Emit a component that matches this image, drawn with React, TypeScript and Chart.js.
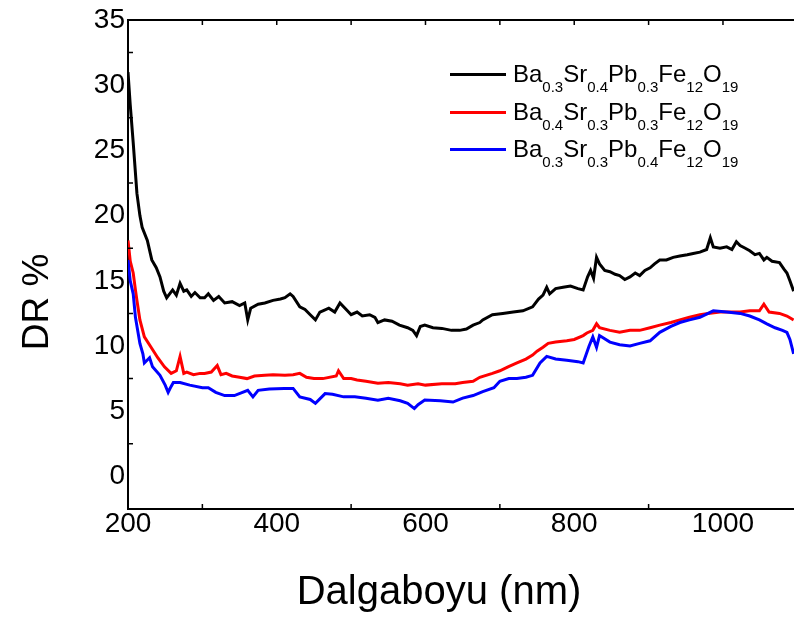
import { useEffect, useRef } from "react";
import { Chart, registerables } from "chart.js";

Chart.register(...registerables);

const FONT = '"Liberation Sans", Arial, sans-serif';

const seriesLabels = [
  "Ba0.3Sr0.4Pb0.3Fe12O19",
  "Ba0.4Sr0.3Pb0.3Fe12O19",
  "Ba0.3Sr0.3Pb0.4Fe12O19",
];
const seriesColors = ["#000000", "#ff0000", "#0000ff"];

const xTitle = "Dalgaboyu (nm)";
const yTitle = "DR %";
const xTickValues = [200, 300, 400, 500, 600, 700, 800, 900, 1000];
const xLabelValues = [200, 400, 600, 800, 1000];
const yTickValues = [0, 2.5, 5, 7.5, 10, 12.5, 15, 17.5, 20, 22.5, 25, 27.5, 30, 32.5, 35];
const yLabelValues = [0, 5, 10, 15, 20, 25, 30, 35];

const blackWl = [200, 203, 207, 212, 216, 219, 226, 232, 238, 243, 248, 252, 256, 260, 265, 270, 275, 279, 285, 290, 297, 303, 308, 315, 322, 330, 340, 350, 357, 361, 365, 375, 384, 395, 405, 411, 418, 422, 431, 438, 445, 452, 458, 462, 470, 478, 485, 495, 500, 508, 515, 525, 532, 536, 545, 555, 565, 576, 583, 588, 593, 599, 610, 622, 635, 646, 655, 664, 673, 677, 690, 704, 718, 731, 744, 752, 758, 763, 767, 775, 785, 795, 805, 812, 818, 822, 826, 830, 834, 841, 848, 855, 861, 868, 875, 882, 888, 895, 902, 908, 915, 924, 933, 942, 952, 960, 969, 978, 983, 987, 996, 1005, 1012, 1018, 1023, 1030, 1036, 1043, 1049, 1055, 1059, 1066, 1076, 1082, 1086, 1090, 1095];
const blackDR = [31.0, 28.5, 25.6, 21.7, 20.0, 19.1, 18.1, 16.6, 16.0, 15.3, 14.2, 13.7, 14.0, 14.3, 13.9, 14.8, 14.2, 14.3, 13.8, 14.1, 13.7, 13.7, 14.0, 13.5, 13.8, 13.3, 13.4, 13.1, 13.3, 12.0, 12.9, 13.2, 13.3, 13.5, 13.6, 13.7, 14.0, 13.8, 13.0, 12.8, 12.4, 12.0, 12.6, 12.7, 12.9, 12.6, 13.3, 12.7, 12.4, 12.6, 12.3, 12.4, 12.2, 11.8, 12.0, 11.9, 11.6, 11.4, 11.2, 10.8, 11.5, 11.6, 11.4, 11.35, 11.2, 11.2, 11.3, 11.6, 11.8, 12.0, 12.4, 12.5, 12.6, 12.7, 13.0, 13.6, 13.9, 14.5, 14.0, 14.4, 14.5, 14.6, 14.4, 14.3, 15.3, 15.8, 15.2, 16.8, 16.3, 15.8, 15.7, 15.5, 15.4, 15.1, 15.3, 15.6, 15.4, 15.8, 16.0, 16.3, 16.6, 16.6, 16.8, 16.9, 17.0, 17.1, 17.2, 17.4, 18.3, 17.6, 17.5, 17.6, 17.4, 18.0, 17.7, 17.5, 17.3, 17.0, 17.1, 16.6, 16.8, 16.5, 16.4, 15.9, 15.6, 15.0, 14.2];

const redWl = [200, 203, 207, 210, 212, 216, 222, 231, 240, 249, 258, 265, 270, 275, 279, 288, 297, 303, 312, 320, 325, 332, 340, 350, 360, 370, 384, 395, 411, 422, 431, 440, 450, 462, 480, 483, 490, 500, 508, 520, 536, 550, 566, 576, 590, 600, 622, 640, 650, 664, 673, 690, 700, 711, 723, 735, 744, 750, 758, 765, 775, 790, 800, 812, 817, 825, 830, 834, 848, 861, 875, 888, 902, 915, 930, 942, 955, 969, 980, 996, 1010, 1023, 1036, 1049, 1055, 1062, 1076, 1086, 1095];
const redDR = [18.1, 16.5, 15.6, 14.3, 13.5, 12.0, 10.7, 9.9, 9.1, 8.4, 7.9, 8.1, 9.2, 7.9, 8.0, 7.8, 7.9, 7.9, 8.0, 8.5, 7.8, 7.9, 7.7, 7.6, 7.5, 7.7, 7.75, 7.8, 7.75, 7.8, 7.9, 7.6, 7.5, 7.5, 7.7, 8.1, 7.5, 7.5, 7.4, 7.3, 7.15, 7.2, 7.1, 7.0, 7.1, 7.0, 7.1, 7.1, 7.2, 7.3, 7.6, 7.9, 8.1, 8.4, 8.7, 9.0, 9.3, 9.6, 9.9, 10.2, 10.3, 10.4, 10.5, 10.8, 11.0, 11.2, 11.7, 11.4, 11.2, 11.05, 11.2, 11.2, 11.4, 11.6, 11.8, 12.0, 12.2, 12.4, 12.5, 12.6, 12.6, 12.6, 12.7, 12.7, 13.2, 12.6, 12.5, 12.3, 12.0];

const blueWl = [200, 203, 207, 210, 216, 220, 222, 229, 233, 243, 250, 254, 258, 261, 270, 283, 300, 308, 318, 330, 343, 361, 368, 375, 390, 410, 422, 431, 445, 452, 465, 475, 490, 505, 520, 536, 550, 566, 576, 585, 590, 599, 620, 637, 650, 664, 677, 692, 700, 712, 723, 735, 744, 754, 763, 775, 790, 805, 812, 820, 825, 830, 834, 848, 861, 875, 888, 902, 915, 930, 942, 955, 969, 987, 1005, 1023, 1036, 1049, 1059, 1070, 1080, 1086, 1090, 1095];
const blueDR = [16.6, 15.0, 14.0, 12.2, 10.2, 9.4, 8.7, 9.1, 8.4, 7.75, 7.0, 6.45, 6.9, 7.2, 7.2, 7.0, 6.8, 6.8, 6.45, 6.2, 6.2, 6.6, 6.1, 6.6, 6.7, 6.75, 6.75, 6.1, 5.9, 5.6, 6.35, 6.3, 6.1, 6.1, 6.0, 5.85, 6.0, 5.8, 5.6, 5.2, 5.5, 5.85, 5.8, 5.7, 6.0, 6.2, 6.5, 6.8, 7.3, 7.5, 7.5, 7.6, 7.75, 8.7, 9.2, 9.0, 8.9, 8.8, 8.7, 10.0, 10.7, 9.9, 10.8, 10.3, 10.1, 10.0, 10.2, 10.4, 11.05, 11.5, 11.8, 12.0, 12.2, 12.7, 12.6, 12.5, 12.3, 12.0, 11.7, 11.4, 11.2, 11.05, 10.5, 9.4];

const seriesWl = [blackWl, redWl, blueWl];
const seriesDR = [blackDR, redDR, blueDR];

function parseFormula(s: string) {
  const parts: { t: string; sub: boolean }[] = [];
  const re = /([A-Za-z]+)|([\d.]+)/g;
  let m: RegExpExecArray | null;
  while ((m = re.exec(s))) {
    parts.push({ t: m[0], sub: !!m[2] });
  }
  return parts;
}

const decorPlugin = {
  id: "decor",
  afterDraw(chart: any) {
    const { ctx, chartArea } = chart;
    const { left, right, top, bottom } = chartArea;
    const xs = chart.scales.x;
    const ys = chart.scales.y;
    ctx.save();
    ctx.strokeStyle = "#000";
    ctx.lineWidth = 2;
    ctx.beginPath();
    ctx.moveTo(left - 1, top);
    ctx.lineTo(right, top);
    ctx.stroke();
    ctx.lineWidth = 1.5;
    ctx.beginPath();
    xs.ticks.forEach((t: any) => {
      const px = xs.getPixelForValue(t.value);
      ctx.moveTo(px, top);
      ctx.lineTo(px, top + 5);
      if (!xLabelValues.includes(t.value)) {
        ctx.moveTo(px, bottom);
        ctx.lineTo(px, bottom - 5);
      }
    });
    ys.ticks.forEach((t: any) => {
      if (!yLabelValues.includes(t.value)) {
        const py = ys.getPixelForValue(t.value);
        ctx.moveTo(left, py);
        ctx.lineTo(left + 5, py);
      }
    });
    ctx.stroke();
    ctx.fillStyle = "#000";
    ctx.font = `40px ${FONT}`;
    ctx.textAlign = "center";
    ctx.textBaseline = "alphabetic";
    ctx.fillText(xTitle, 439, 604);
    ctx.font = `37px ${FONT}`;
    ctx.translate(48, 302);
    ctx.rotate(-Math.PI / 2);
    ctx.fillText(yTitle, 0, 0);
    ctx.restore();
  },
};

export default function App() {
  const canvasRef = useRef<HTMLCanvasElement | null>(null);

  useEffect(() => {
    if (!canvasRef.current) return;
    const datasets = seriesLabels.map((label, i) => ({
      label,
      data: seriesWl[i].map((x, j) => ({ x, y: seriesDR[i][j] })),
      borderColor: seriesColors[i],
      backgroundColor: seriesColors[i],
      borderWidth: 3,
      pointRadius: 0,
      tension: 0,
      fill: false,
      order: 2 - i,
    }));
    const chart = new Chart(canvasRef.current, {
      type: "line",
      data: { datasets },
      plugins: [decorPlugin],
      options: {
        animation: false,
        responsive: true,
        maintainAspectRatio: false,
        layout: { padding: { left: 0, right: 0, top: 20, bottom: 0 } },
        plugins: { legend: { display: false }, tooltip: { enabled: false } },
        scales: {
          x: {
            type: "linear",
            min: 200,
            max: 1095.5,
            border: { display: true, color: "#000", width: 2 },
            grid: { display: true, drawOnChartArea: false, drawTicks: false },
            afterBuildTicks: (s: any) => {
              s.ticks = xTickValues.map((v) => ({ value: v }));
            },
            ticks: {
              autoSkip: false,
              maxRotation: 0,
              padding: -2,
              color: "#000",
              font: { family: FONT, size: 28 },
              callback: (v: any) => (xLabelValues.includes(Number(v)) ? String(v) : ""),
            },
            afterFit: (s: any) => {
              s.height = 114;
            },
          },
          y: {
            type: "linear",
            min: -2.5,
            max: 35,
            border: { display: true, color: "#000", width: 2 },
            grid: { display: true, drawOnChartArea: false, drawTicks: false },
            afterBuildTicks: (s: any) => {
              s.ticks = yTickValues.map((v) => ({ value: v }));
            },
            ticks: {
              autoSkip: false,
              padding: 3,
              color: "#000",
              font: { family: FONT, size: 28 },
              callback: (v: any) => (yLabelValues.includes(Number(v)) ? String(v) : ""),
            },
            afterFit: (s: any) => {
              s.width = 128;
            },
          },
        },
      },
    });
    return () => chart.destroy();
  }, []);

  return (
    <div style={{ position: "absolute", left: 0, top: 0, width: 794, height: 623, background: "#fff" }}>
      <canvas ref={canvasRef} />
      {seriesLabels.map((label, i) => (
        <div
          key={label}
          style={{
            position: "absolute",
            left: 450,
            top: 56 + i * 37.5,
            height: 37.5,
            display: "flex",
            alignItems: "center",
            fontFamily: FONT,
            fontSize: 24,
            lineHeight: "24px",
            color: "#000",
            whiteSpace: "nowrap",
          }}
        >
          <span style={{ display: "inline-block", width: 56, height: 3, background: seriesColors[i], marginRight: 7 }} />
          <span>
            {parseFormula(label).map((p, k) =>
              p.sub ? (
                <span key={k} style={{ fontSize: 15, verticalAlign: "-10px", lineHeight: 0 }}>
                  {p.t}
                </span>
              ) : (
                <span key={k}>{p.t}</span>
              )
            )}
          </span>
        </div>
      ))}
    </div>
  );
}
